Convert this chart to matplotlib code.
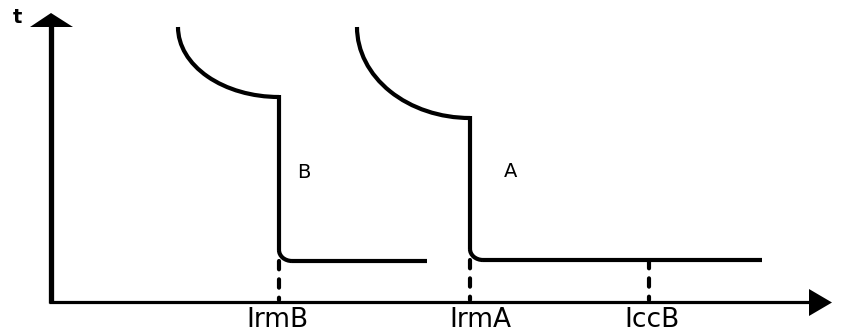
import matplotlib
matplotlib.use("Agg")
import matplotlib.pyplot as plt
from matplotlib.patches import Arc

plt.rcParams['font.family'] = ['DejaVu Sans']

# Diagram values (arbitrary units: current x, time t)
curve_names = ["B", "A"]
thermal_start_x = [127, 306]     # top of the inverse-time curve
thermal_start_t = [275, 275]
magnetic_x = [228, 419]          # instantaneous (magnetic) trip current
knee_t = [205, 184]              # time at which curve reaches the magnetic threshold
floor_t = [41, 42]               # instantaneous trip time
floor_end_x = [376, 711]         # end of the horizontal part

# Marked currents (dashed guides) and their labels
mark_x = [228, 419, 597.5]
mark_t = [41, 42, 42]
mark_labels = ["IrmB", "IrmA", "IccB"]
label_x = [226, 429, 601]

curve_name_x = [253, 460]
curve_name_t = [124, 125]

LW = 3.0
fig = plt.figure(figsize=(8.44, 3.34), dpi=100)
ax = fig.add_axes([0, 0, 1, 1])
ax.set_xlim(-51, 793)
ax.set_ylim(-32, 302)
ax.axis("off")

# axes with arrow heads
ax.plot([0, 0], [-1, 276], color="black", lw=3.8, solid_capstyle="butt")
ax.fill([-21, 22, 0], [275, 275, 289], color="black", lw=0)
ax.plot([-2, 759], [0, 0], color="black", lw=2.3, solid_capstyle="butt")
ax.fill([758, 758, 781], [13, -14, -0.5], color="black", lw=0)
ax.text(-34, 279, "t", fontsize=14, fontweight="bold", ha="center", va="baseline")

r_x, r_t = 13, 11   # rounding of the lower corner
for sx, st, mx, kt, ft, ex in zip(thermal_start_x, thermal_start_t, magnetic_x,
                                  knee_t, floor_t, floor_end_x):
    # inverse-time part: quarter ellipse from start point to knee
    ax.add_patch(Arc((mx, st), 2 * (mx - sx), 2 * (st - kt), theta1=180, theta2=270,
                     color="black", lw=LW, capstyle="butt"))
    # vertical drop
    ax.plot([mx, mx], [kt + 2.1, ft + r_t], color="black", lw=LW,
            solid_capstyle="butt")
    # rounded corner
    ax.add_patch(Arc((mx + r_x, ft + r_t), 2 * r_x, 2 * r_t, theta1=180, theta2=270,
                     color="black", lw=LW, capstyle="butt"))
    # horizontal floor
    ax.plot([mx + r_x, ex], [ft, ft], color="black", lw=LW, solid_capstyle="butt")

# dashed guide lines
for mx, mt in zip(mark_x, mark_t):
    ax.plot([mx, mx], [mt, 2], color="black", lw=3.0, linestyle=(0, (2.0, 2.4)),
            dash_capstyle="round")

for lx, lab in zip(label_x, mark_labels):
    ax.text(lx, -25, lab, fontsize=19, ha="center", va="baseline")

for nx, nt, nm in zip(curve_name_x, curve_name_t, curve_names):
    ax.text(nx, nt, nm, fontsize=14, ha="center", va="baseline")

fig.savefig("out.png", dpi=100)
